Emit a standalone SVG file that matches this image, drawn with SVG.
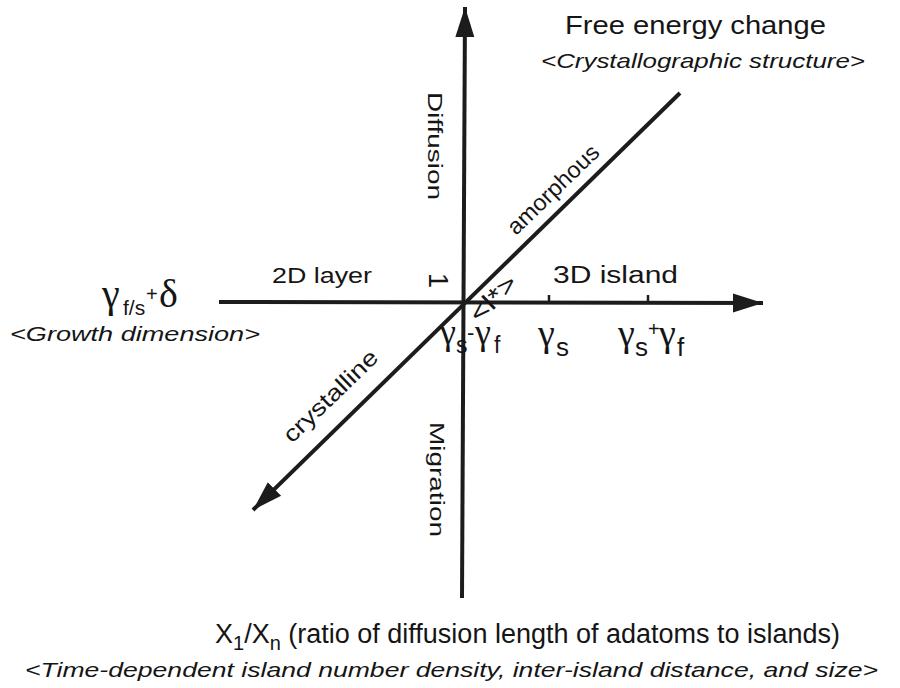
<svg xmlns="http://www.w3.org/2000/svg" width="900" height="688" viewBox="0 0 900 688">
<style>
.s{font-family:"Liberation Sans",Arial,sans-serif;fill:#151515}
.i{font-family:"Liberation Sans",Arial,sans-serif;font-style:italic;fill:#151515}
.g{font-family:"Liberation Serif","Times New Roman",serif;fill:#151515}
.ax{stroke:#1c1c1c;stroke-width:4;fill:none}
.tk{stroke:#1c1c1c;stroke-width:2.5}
</style>
<defs>
<marker id="ah" markerUnits="userSpaceOnUse" markerWidth="34" markerHeight="22" viewBox="0 -11 34 22" refX="30" refY="0" orient="auto">
<path d="M0,-9.5 L30,0 L0,9.5 z" fill="#1c1c1c"/>
</marker>
</defs>
<rect width="900" height="688" fill="#ffffff"/>
<g id="connectors">
<line class="ax" x1="462" y1="598" x2="465" y2="7" marker-end="url(#ah)"/>
<line class="ax" x1="219" y1="302" x2="763" y2="303" marker-end="url(#ah)"/>
<line class="ax" x1="680" y1="93" x2="253" y2="510" marker-end="url(#ah)"/>
<line class="tk" x1="549" y1="302" x2="549" y2="295"/>
<line class="tk" x1="648" y1="302" x2="648" y2="295"/>
</g>
<g id="free-energy">
<text class="s" x="565" y="34" font-size="26" textLength="261" lengthAdjust="spacingAndGlyphs">Free energy change</text>
<text class="i" x="541" y="68" font-size="21" textLength="324" lengthAdjust="spacingAndGlyphs">&lt;Crystallographic structure&gt;</text>
</g>
<g id="diffusion">
<text class="s" font-size="21" transform="translate(428,92) rotate(90)" textLength="108" lengthAdjust="spacingAndGlyphs">Diffusion</text>
</g>
<g id="migration">
<text class="s" font-size="21" transform="translate(430,422) rotate(90)" textLength="115" lengthAdjust="spacingAndGlyphs">Migration</text>
</g>
<g id="amorphous">
<text class="s" font-size="23" transform="translate(516,236) rotate(-44)" textLength="118" lengthAdjust="spacingAndGlyphs">amorphous</text>
</g>
<g id="crystalline">
<text class="s" font-size="23" transform="translate(292,444) rotate(-44)" textLength="122" lengthAdjust="spacingAndGlyphs">crystalline</text>
</g>
<g id="lstar">
<text class="s" font-size="25" transform="translate(479,324) rotate(-44)" textLength="56" lengthAdjust="spacingAndGlyphs">&lt;l*&gt;</text>
</g>
<g id="one">
<text class="s" font-size="27" transform="translate(429,273) rotate(90)">1</text>
</g>
<g id="layer2d">
<text class="s" x="272" y="283" font-size="22" textLength="100" lengthAdjust="spacingAndGlyphs">2D layer</text>
</g>
<g id="island3d">
<text class="s" x="553" y="283" font-size="23" textLength="125" lengthAdjust="spacingAndGlyphs">3D island</text>
</g>
<g id="growth">
<text class="g" x="102" y="307" font-size="40">γ</text>
<text class="s" x="123" y="315" font-size="21">f/s</text>
<text class="s" x="146" y="301" font-size="20">+</text>
<text class="g" x="159" y="307" font-size="40">δ</text>
<text class="i" x="10" y="341" font-size="21" textLength="250" lengthAdjust="spacingAndGlyphs">&lt;Growth dimension&gt;</text>
</g>
<g id="gs-gf">
<text class="g" x="440" y="344" font-size="36">γ</text>
<text class="s" x="456" y="353" font-size="23">s</text>
<text class="s" x="467" y="340" font-size="22">-</text>
<text class="g" x="475" y="344" font-size="36">γ</text>
<text class="s" x="494" y="353" font-size="23">f</text>
</g>
<g id="gs">
<text class="g" x="538" y="346" font-size="38">γ</text>
<text class="s" x="556" y="356" font-size="26">s</text>
</g>
<g id="gs-plus-gf">
<text class="g" x="618" y="346" font-size="38">γ</text>
<text class="s" x="635" y="356" font-size="26">s</text>
<text class="s" x="648" y="336" font-size="20">+</text>
<text class="g" x="659" y="346" font-size="38">γ</text>
<text class="s" x="677" y="356" font-size="26">f</text>
</g>
<g id="x-axis-label">
<text class="s" x="215" y="643" font-size="27">X<tspan font-size="20" dy="7">1</tspan><tspan dy="-7">/X</tspan><tspan font-size="20" dy="7">n</tspan><tspan dy="-7"> (ratio of diffusion length of adatoms to islands)</tspan></text>
<text class="i" x="25" y="677" font-size="21" textLength="853" lengthAdjust="spacingAndGlyphs">&lt;Time-dependent island number density, inter-island distance, and size&gt;</text>
</g>
</svg>
